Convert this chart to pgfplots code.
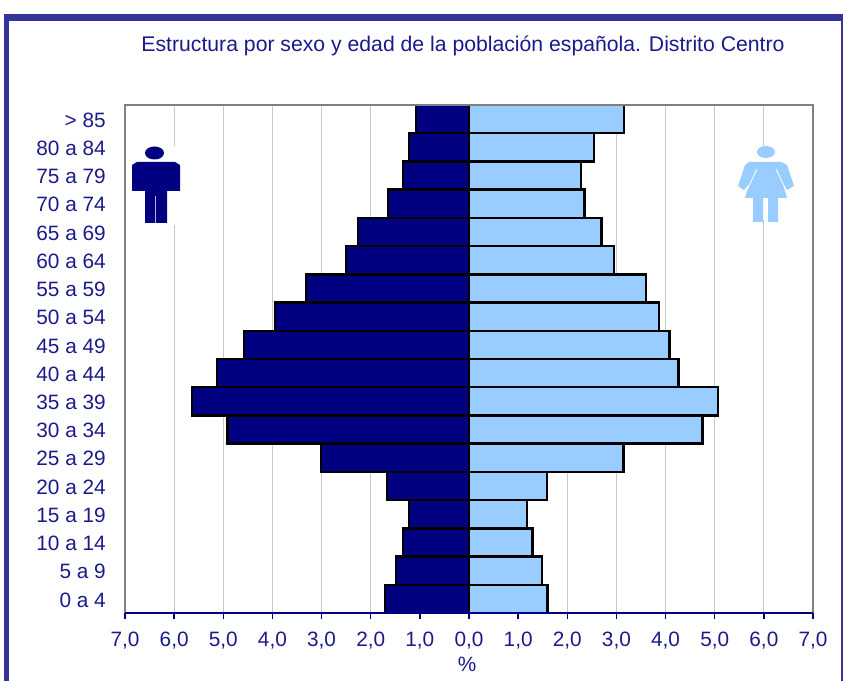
\documentclass[border=0pt]{standalone}
\usepackage{fontspec}
\setmainfont{Liberation Sans}
\usepackage{pgfplots}
\pgfplotsset{compat=1.18}
\definecolor{frameblue}{HTML}{333399}
\definecolor{textblue}{HTML}{1A1A8C}
\definecolor{male}{HTML}{000080}
\definecolor{female}{HTML}{99CCFF}
\definecolor{gridc}{HTML}{C8C8C8}
\definecolor{axisg}{HTML}{808080}
\begin{document}
\begin{tikzpicture}[x=1pt,y=1pt]
\useasboundingbox (0,0) rectangle (843,681);
% frame
\fill[frameblue] (4,681-21) rectangle (843,681-14);
\fill[frameblue] (4,0) rectangle (9,681-14);
\fill[frameblue] (841,0) rectangle (843,681-14);
\node[text=textblue,font=\fontsize{21.2}{24}\selectfont,anchor=base] at (463,681-52) {Estructura por sexo y edad de la población española. Distrito Centro};
\begin{axis}[
  at={(125pt,68pt)},anchor=south west,
  scale only axis,width=688pt,height=508pt,
  xmin=-7,xmax=7,ymin=-0.5,ymax=17.5,
  xbar,bar width=28.22pt,bar shift=0pt,
  axis x line*=bottom,
  axis y line=none,
  x axis line style={draw=male,line width=2pt,-},
  xtick={-7,-6,-5,-4,-3,-2,-1,0,1,2,3,4,5,6,7},
  xticklabels={{7,0},{6,0},{5,0},{4,0},{3,0},{2,0},{1,0},{0,0},{1,0},{2,0},{3,0},{4,0},{5,0},{6,0},{7,0}},
  xtick pos=bottom,xtick align=outside,
  major tick length=6pt,
  x tick style={draw=male,line width=1.3pt},
  xmajorgrids,grid style={draw=gridc,line width=0.9pt},
  x tick label style={text=textblue,font=\fontsize{20.8}{24}\selectfont,yshift=-9pt},
  xlabel={\%},xlabel style={text=textblue,font=\fontsize{20.8}{24}\selectfont,yshift=-1pt,xshift=-2pt},
  clip=false,
]
\addplot[fill=male,draw=black,line width=2.5pt] coordinates {
(-1.71,0)(-1.49,1)(-1.34,2)(-1.22,3)(-1.67,4)(-3.01,5)(-4.91,6)(-5.64,7)(-5.13,8)
(-4.58,9)(-3.95,10)(-3.32,11)(-2.50,12)(-2.26,13)(-1.65,14)(-1.34,15)(-1.22,16)(-1.08,17)};
\addplot[fill=female,draw=black,line width=2.5pt] coordinates {
(1.60,0)(1.49,1)(1.29,2)(1.18,3)(1.59,4)(3.14,5)(4.75,6)(5.07,7)(4.26,8)
(4.08,9)(3.87,10)(3.60,11)(2.95,12)(2.70,13)(2.35,14)(2.28,15)(2.54,16)(3.15,17)};
\end{axis}
% grey frame of the plot area
\draw[axisg,line width=2pt] (125,68) -- (125,576) -- (813,576) -- (813,68);
\draw[male,line width=2pt] (125,68) -- (813,68);
% category labels
\foreach \t [count=\i from 0] in {0 a 4,5 a 9,10 a 14,15 a 19,20 a 24,25 a 29,30 a 34,35 a 39,40 a 44,45 a 49,50 a 54,55 a 59,60 a 64,65 a 69,70 a 74,75 a 79,80 a 84,> 85}
  \node[text=textblue,font=\fontsize{20.8}{24}\selectfont,anchor=mid east,inner sep=0pt] at (106,68+14.1-5.5+28.22*\i) {\t};
\begin{scope}[shift={(0,681)},yscale=-1]
% man
\fill[white] (127,146) rectangle (184,225);
\fill[male] (154.5,153) ellipse [x radius=9.5,y radius=6.5];
\fill[male] (137,162) -- (175,162) -- (180,165) -- (180,191) -- (167,191) -- (167,223) -- (145,223) -- (145,191) -- (132,191) -- (132,165) -- cycle;
\draw[white!70!male,line width=0.4pt] (155.5,196) -- (155.5,223);
% woman
\fill[white] (741,146) rectangle (795,220);
\fill[female] (766,152) ellipse [x radius=9,y radius=6];
\fill[female] (749,162) -- (781,162) -- (787,165) -- (794,186) -- (787,190) -- (783,184) -- (787,198) -- (778,198) -- (778,222) -- (768,222) -- (768,198) -- (763,198) -- (763,222) -- (753,222) -- (753,198) -- (745,198) -- (749,184) -- (744,190) -- (738,186) -- (745,165) -- cycle;
\draw[white,line width=0.8pt] (757,169) -- (747,190);
\draw[white,line width=0.8pt] (776,169) -- (786,190);
\end{scope}
\end{tikzpicture}
\end{document}
